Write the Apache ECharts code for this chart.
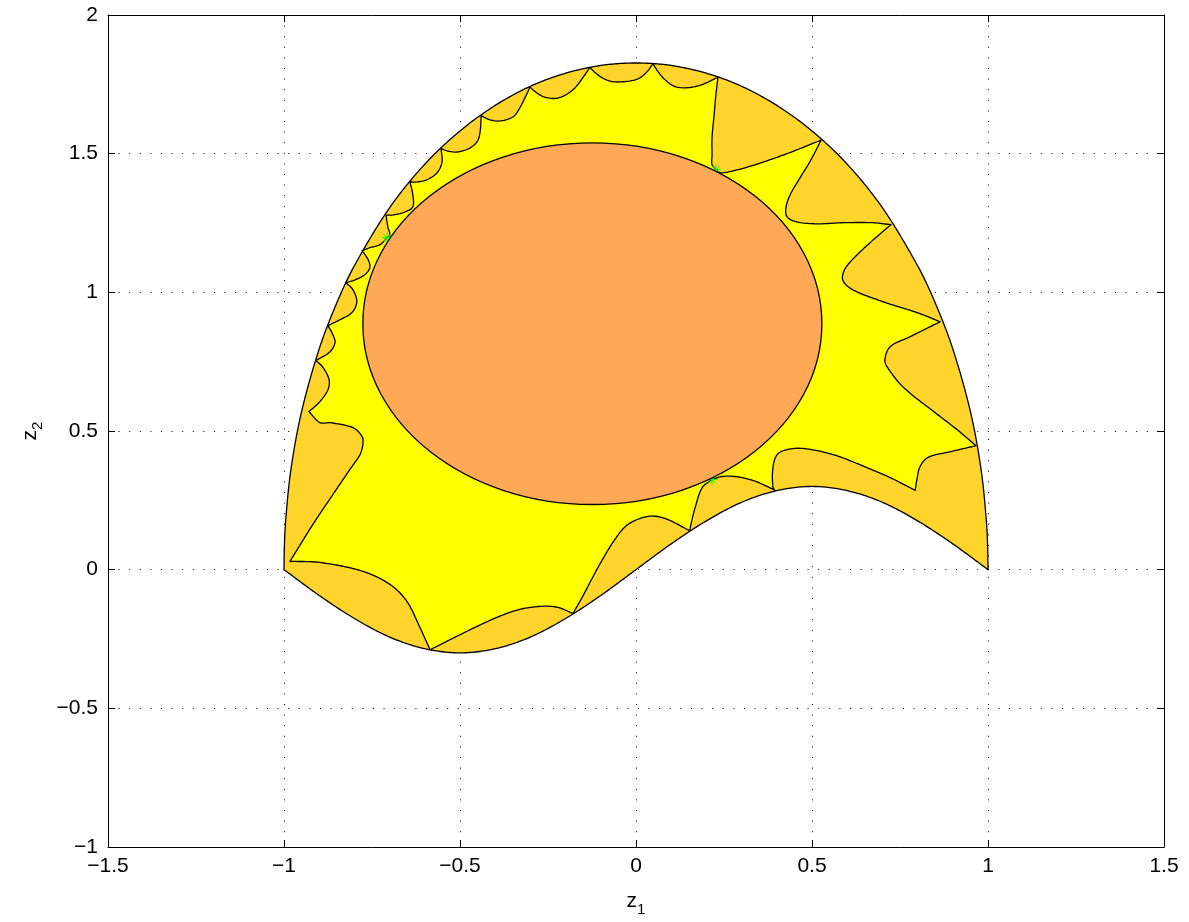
<!DOCTYPE html>
<html>
<head>
<meta charset="utf-8">
<script src="https://cdn.jsdelivr.net/npm/echarts@6/dist/echarts.min.js"></script>
<style>
html,body{margin:0;padding:0;background:#fff;}
#main{width:1189px;height:922px;}
</style>
</head>
<body>
<div id="main"></div>
<script>
// ---------- tick labels ----------
const xTickValues = [-1.5, -1, -0.5, 0, 0.5, 1, 1.5];
const xTickLabels = ['\u22121.5', '\u22121', '\u22120.5', '0', '0.5', '1', '1.5'];
const yTickValues = [-1, -0.5, 0, 0.5, 1, 1.5, 2];
const yTickLabels = ['\u22121', '\u22120.5', '0', '0.5', '1', '1.5', '2'];

// ---------- outer region boundary ----------
const outerUpper = [
  [-1.0, 0.0], [-0.999, 0.082], [-0.995, 0.182], [-0.98, 0.364], [-0.95, 0.570], [-0.9, 0.796],
  [-0.85, 0.962], [-0.8, 1.096], [-0.7, 1.305], [-0.6, 1.462], [-0.5, 1.582], [-0.4, 1.674],
  [-0.3, 1.743], [-0.2, 1.790], [-0.1, 1.818], [0.0, 1.827], [0.1, 1.818], [0.2, 1.790],
  [0.3, 1.743], [0.4, 1.674], [0.5, 1.582], [0.6, 1.462], [0.7, 1.305], [0.8, 1.096],
  [0.85, 0.962], [0.9, 0.796], [0.95, 0.570], [0.98, 0.364], [0.995, 0.182], [0.999, 0.082], [1.0, 0.0]
];
const outerLower = [
  [1.0, 0.0], [0.9, 0.093], [0.8, 0.176], [0.7, 0.243], [0.6, 0.285], [0.5, 0.300], [0.4, 0.285],
  [0.3, 0.243], [0.2, 0.176], [0.1, 0.093], [0.0, 0.0], [-0.1, -0.093], [-0.2, -0.176],
  [-0.3, -0.243], [-0.4, -0.285], [-0.5, -0.300], [-0.6, -0.285], [-0.7, -0.243],
  [-0.8, -0.176], [-0.9, -0.093], [-1.0, 0.0]
];

// ---------- yellow region boundary: wavy edges between tips ----------
const yellowEdges = [
  [[-0.983, 0.030], [-0.898, 0.026], [-0.776, -0.006], [-0.699, -0.053], [-0.651, -0.114], [-0.614, -0.208], [-0.585, -0.289]],
  [[-0.585, -0.289], [-0.480, -0.222], [-0.395, -0.172], [-0.330, -0.143], [-0.267, -0.132], [-0.222, -0.136], [-0.179, -0.158]],
  [[-0.179, -0.158], [-0.153, -0.100], [-0.108, 0.008], [-0.060, 0.109], [-0.023, 0.163], [0.034, 0.192], [0.082, 0.185], [0.153, 0.140]],
  [[0.153, 0.140], [0.156, 0.163], [0.168, 0.224], [0.188, 0.296], [0.216, 0.325]],
  [[0.216, 0.325], [0.244, 0.336], [0.281, 0.336], [0.324, 0.325], [0.361, 0.307], [0.395, 0.286]],
  [[0.395, 0.286], [0.389, 0.296], [0.389, 0.368], [0.401, 0.415], [0.429, 0.433], [0.474, 0.437], [0.560, 0.415], [0.656, 0.368], [0.722, 0.332], [0.793, 0.286]],
  [[0.793, 0.286], [0.798, 0.325], [0.807, 0.372], [0.830, 0.405], [0.892, 0.425], [0.966, 0.447]],
  [[0.966, 0.447], [0.912, 0.505], [0.850, 0.566], [0.760, 0.657], [0.713, 0.732], [0.707, 0.758], [0.722, 0.804], [0.780, 0.841], [0.864, 0.894]],
  [[0.864, 0.894], [0.798, 0.927], [0.702, 0.966], [0.616, 1.009], [0.588, 1.042], [0.591, 1.078], [0.614, 1.117], [0.665, 1.179], [0.724, 1.244]],
  [[0.724, 1.244], [0.673, 1.251], [0.588, 1.251], [0.514, 1.247], [0.457, 1.254], [0.429, 1.272], [0.426, 1.305], [0.438, 1.352], [0.466, 1.413], [0.494, 1.471], [0.526, 1.549]],
  [[0.526, 1.549], [0.429, 1.500], [0.338, 1.460], [0.276, 1.438], [0.239, 1.431], [0.227, 1.442]],
  [[0.227, 1.442], [0.216, 1.460], [0.216, 1.496], [0.216, 1.558], [0.222, 1.641], [0.227, 1.713], [0.233, 1.776]],
  [[0.233, 1.776], [0.188, 1.749], [0.148, 1.738], [0.111, 1.742], [0.082, 1.767], [0.063, 1.795], [0.048, 1.824]],
  [[0.048, 1.824], [0.031, 1.795], [0.006, 1.770], [-0.031, 1.760], [-0.068, 1.760], [-0.097, 1.774], [-0.116, 1.792], [-0.131, 1.811]],
  [[-0.131, 1.811], [-0.151, 1.774], [-0.173, 1.738], [-0.202, 1.710], [-0.230, 1.699], [-0.264, 1.706], [-0.287, 1.724], [-0.301, 1.740]],
  [[-0.301, 1.740], [-0.315, 1.703], [-0.330, 1.665], [-0.349, 1.633], [-0.386, 1.618], [-0.415, 1.622], [-0.440, 1.637]],
  [[-0.440, 1.637], [-0.443, 1.578], [-0.452, 1.542], [-0.477, 1.517], [-0.509, 1.506], [-0.537, 1.510], [-0.554, 1.519]],
  [[-0.554, 1.519], [-0.551, 1.470], [-0.565, 1.431], [-0.594, 1.406], [-0.622, 1.398], [-0.642, 1.398]],
  [[-0.642, 1.398], [-0.634, 1.352], [-0.634, 1.308], [-0.656, 1.290], [-0.690, 1.279], [-0.710, 1.278]],
  [[-0.710, 1.278], [-0.705, 1.236], [-0.699, 1.207], [-0.707, 1.197]],
  [[-0.707, 1.197], [-0.727, 1.172], [-0.756, 1.161], [-0.778, 1.150]],
  [[-0.778, 1.150], [-0.761, 1.118], [-0.756, 1.089], [-0.770, 1.064], [-0.798, 1.045], [-0.824, 1.035]],
  [[-0.824, 1.035], [-0.804, 1.009], [-0.793, 0.966], [-0.807, 0.927], [-0.841, 0.901], [-0.875, 0.880]],
  [[-0.875, 0.880], [-0.861, 0.847], [-0.855, 0.819], [-0.869, 0.786], [-0.909, 0.754]],
  [[-0.909, 0.754], [-0.889, 0.729], [-0.872, 0.685], [-0.875, 0.649], [-0.898, 0.606], [-0.929, 0.570]],
  [[-0.929, 0.570], [-0.898, 0.530], [-0.869, 0.530], [-0.804, 0.512], [-0.778, 0.480], [-0.776, 0.451], [-0.784, 0.415], [-0.813, 0.361], [-0.861, 0.271], [-0.918, 0.163], [-0.983, 0.030]]
];

// ---------- inner disc and touch markers ----------
const innerCircleCenter = [-0.124, 0.887];
const innerCircleRadius = 0.652;
const touchPoints = [[-0.707, 1.197], [0.227, 1.442], [0.216, 0.325]];

// ---------- styles ----------
const GOLD = '#FFD52B';
const YELLOW = '#FFFF00';
const ORANGE = '#FFA856';
const FONT = 'Liberation Sans, Arial, Helvetica, sans-serif';

function labelFor(values, labels) {
  return function (v) {
    for (let i = 0; i < values.length; i++) if (Math.abs(values[i] - v) < 1e-9) return labels[i];
    return '';
  };
}

// smooth each edge (in pixel space) and chain the edges into one closed outline
function chainEdges(api, edges) {
  const out = [];
  edges.forEach(function (edge, ei) {
    const p = edge.map(function (q) { return api.coord(q); });
    const n = p.length;
    const d = [];
    for (let i = 0; i < n - 1; i++) d.push(Math.max(1e-6, Math.hypot(p[i + 1][0] - p[i][0], p[i + 1][1] - p[i][1])));
    const t = [];
    for (let i = 0; i < n; i++) {
      if (i === 0) t.push([(p[1][0] - p[0][0]) / d[0], (p[1][1] - p[0][1]) / d[0]]);
      else if (i === n - 1) t.push([(p[i][0] - p[i - 1][0]) / d[i - 1], (p[i][1] - p[i - 1][1]) / d[i - 1]]);
      else {
        const s = d[i - 1] + d[i];
        t.push([(p[i + 1][0] - p[i - 1][0]) / s, (p[i + 1][1] - p[i - 1][1]) / s]);
      }
    }
    if (ei === 0) out.push(p[0]);
    for (let i = 0; i < n - 1; i++) {
      const steps = Math.max(2, Math.ceil(d[i] / 2));
      for (let k = 1; k <= steps; k++) {
        const s = k / steps, s2 = s * s, s3 = s2 * s;
        const h00 = 2 * s3 - 3 * s2 + 1, h10 = s3 - 2 * s2 + s, h01 = -2 * s3 + 3 * s2, h11 = s3 - s2;
        out.push([
          h00 * p[i][0] + h10 * d[i] * t[i][0] + h01 * p[i + 1][0] + h11 * d[i] * t[i + 1][0],
          h00 * p[i][1] + h10 * d[i] * t[i][1] + h01 * p[i + 1][1] + h11 * d[i] * t[i + 1][1]
        ]);
      }
    }
  });
  return out;
}

function regionSeries(name, edges, fill, z) {
  return {
    type: 'custom', name: name, z: z, clip: false, silent: true,
    data: [[0, 0]],
    renderItem: function (params, api) {
      return {
        type: 'polygon',
        shape: { points: chainEdges(api, edges) },
        style: { fill: fill, stroke: '#000', lineWidth: 1.3, lineJoin: 'round' }
      };
    }
  };
}

const chart = echarts.init(document.getElementById('main'), null, { renderer: 'canvas' });

const axisLineStyle = { color: '#000', width: 1 };
const gridDots = { color: '#000', width: 1, type: [1, 9.6] };

const option = {
  animation: false,
  backgroundColor: '#fff',
  textStyle: { fontFamily: FONT },
  grid: { left: 108, right: 25, top: 15, bottom: 74, containLabel: false },
  xAxis: [
    {
      type: 'value', position: 'bottom', min: -1.5, max: 1.5, interval: 0.5,
      axisLine: { show: true, onZero: false, lineStyle: axisLineStyle },
      axisTick: { show: true, inside: true, length: 7, lineStyle: axisLineStyle },
      axisLabel: { show: true, color: '#000', fontSize: 21, fontFamily: FONT, margin: 9,
        showMinLabel: true, showMaxLabel: true, formatter: labelFor(xTickValues, xTickLabels) },
      splitLine: { show: true, lineStyle: gridDots },
      name: 'z{s|1}', nameLocation: 'middle', nameGap: 44,
      nameTextStyle: { color: '#000', fontSize: 21, fontFamily: FONT,
        rich: { s: { fontSize: 15, fontFamily: FONT, color: '#000', lineHeight: 15, padding: [16, 0, 0, 0] } } }
    },
    {
      type: 'value', position: 'top', min: -1.5, max: 1.5, interval: 0.5,
      axisLine: { show: true, onZero: false, lineStyle: axisLineStyle },
      axisTick: { show: true, inside: true, length: 7, lineStyle: axisLineStyle },
      axisLabel: { show: false }, splitLine: { show: false }
    }
  ],
  yAxis: [
    {
      type: 'value', position: 'left', min: -1, max: 2, interval: 0.5,
      axisLine: { show: true, onZero: false, lineStyle: axisLineStyle },
      axisTick: { show: true, inside: true, length: 7, lineStyle: axisLineStyle },
      axisLabel: { show: true, color: '#000', fontSize: 21, fontFamily: FONT, margin: 10,
        showMinLabel: true, showMaxLabel: true, formatter: labelFor(yTickValues, yTickLabels) },
      splitLine: { show: true, lineStyle: gridDots },
      name: 'z{s|2}', nameLocation: 'middle', nameGap: 65, nameRotate: 90,
      nameTextStyle: { color: '#000', fontSize: 21, fontFamily: FONT,
        rich: { s: { fontSize: 15, fontFamily: FONT, color: '#000', lineHeight: 15, padding: [16, 0, 0, 0] } } }
    },
    {
      type: 'value', position: 'right', min: -1, max: 2, interval: 0.5,
      axisLine: { show: true, onZero: false, lineStyle: axisLineStyle },
      axisTick: { show: true, inside: true, length: 7, lineStyle: axisLineStyle },
      axisLabel: { show: false }, splitLine: { show: false }
    }
  ],
  series: [
    regionSeries('outer', [outerUpper, outerLower], GOLD, 2),
    regionSeries('inner', yellowEdges, YELLOW, 3),
    {
      type: 'custom', name: 'touch', z: 4, clip: false, silent: true,
      data: touchPoints,
      renderItem: function (params, api) {
        const c = api.coord([api.value(0), api.value(1)]);
        const r = 5, h = r * Math.SQRT1_2;
        const segs = [[-r, 0, r, 0], [0, -r, 0, r], [-h, -h, h, h], [-h, h, h, -h]];
        return {
          type: 'group',
          children: segs.map(function (s) {
            return { type: 'line', shape: { x1: c[0] + s[0], y1: c[1] + s[1], x2: c[0] + s[2], y2: c[1] + s[3] },
              style: { stroke: '#00FF00', lineWidth: 1 } };
          })
        };
      }
    },
    {
      type: 'custom', name: 'disc', z: 5, clip: false, silent: true,
      data: [[innerCircleCenter[0], innerCircleCenter[1], innerCircleRadius]],
      renderItem: function (params, api) {
        const c = api.coord([api.value(0), api.value(1)]);
        const sz = api.size([api.value(2), api.value(2)]);
        return {
          type: 'ellipse',
          shape: { cx: c[0], cy: c[1], rx: sz[0], ry: sz[1] },
          style: { fill: ORANGE, stroke: '#000', lineWidth: 1.3 }
        };
      }
    }
  ]
};
chart.setOption(option);
</script>
</body>
</html>
